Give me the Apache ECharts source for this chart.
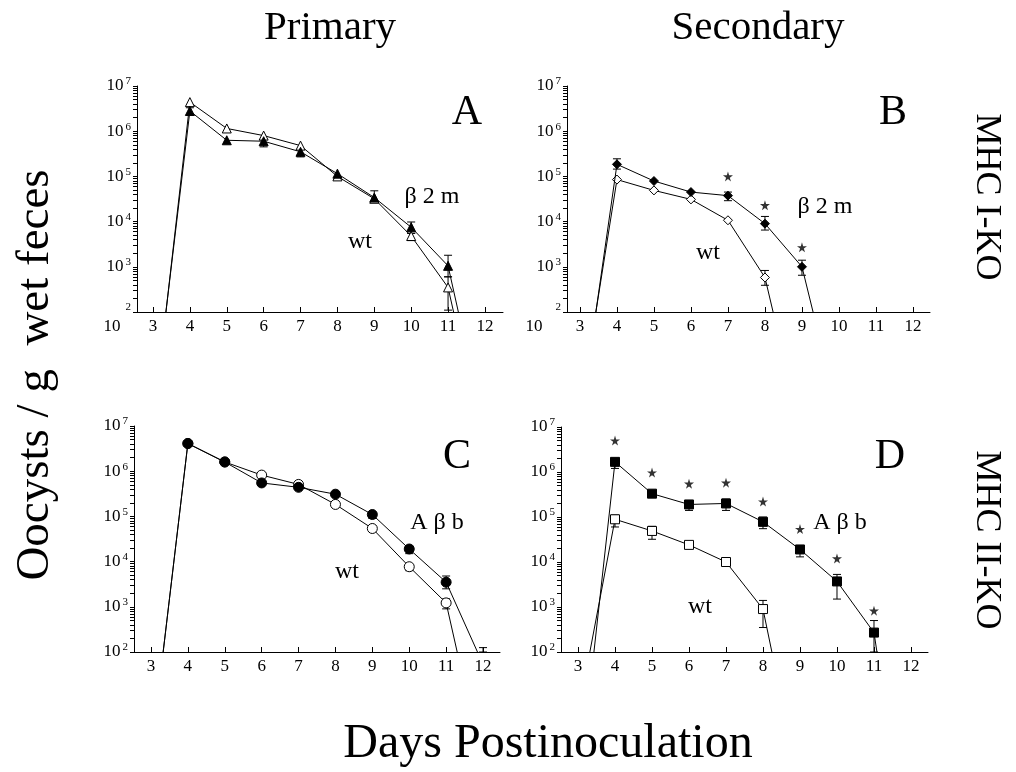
<!DOCTYPE html>
<html>
<head>
<meta charset="utf-8">
<script src="https://cdn.jsdelivr.net/npm/echarts@6/dist/echarts.min.js"></script>
<style>
html,body{margin:0;padding:0;background:#fff;}
#c{width:1016px;height:772px;}
</style>
</head>
<body>
<div id="c"></div>
<script>
// ---------- data ----------
var xTicks = [3, 4, 5, 6, 7, 8, 9, 10, 11, 12];
var yTicks = [1e2, 1e3, 1e4, 1e5, 1e6, 1e7];
var yMinorTicks = [];
[100, 1000, 10000, 100000, 1000000].forEach(function (d) {
  for (var k = 2; k <= 9; k++) yMinorTicks.push(d * k);
});
var yAllTicks = yTicks.concat(yMinorTicks).sort(function (a, b) { return a - b; });

// Panel A (Primary, MHC I-KO): beta2m (filled triangle) vs wt (open triangle)
var aKoX = [3.35, 4, 5, 6, 7, 8, 9, 10, 11, 11.28];
var aKoY = [100, 2.8e6, 6.3e5, 6.0e5, 3.5e5, 1.15e5, 3.4e4, 7.5e3, 1.05e3, 100];
var aWtX = [3.35, 4, 5, 6, 7, 8, 9, 10, 11, 11.15];
var aWtY = [100, 4.4e6, 1.15e6, 8.0e5, 4.8e5, 1.0e5, 3.2e4, 4.8e3, 3.5e2, 100];
var aKoErr = [[4, 2.3e6, 3.3e6], [6, 4.5e5, 6.5e5], [7, 2.7e5, 4.0e5], [9, 2.7e4, 4.8e4], [10, 5.5e3, 9.8e3], [11, 6.0e2, 1.8e3]];
var aWtErr = [[10, 3.8e3, 5.5e3], [11, 1.1e2, 6.0e2]];
var aStars = [];

// Panel B (Secondary, MHC I-KO): beta2m (filled diamond) vs wt (open diamond)
var bKoX = [3.43, 4, 5, 6, 7, 8, 9, 9.3];
var bKoY = [100, 1.85e5, 7.9e4, 4.5e4, 3.75e4, 9.0e3, 1.0e3, 100];
var bWtX = [3.43, 4, 5, 6, 7, 8, 8.22];
var bWtY = [100, 8.5e4, 4.9e4, 3.1e4, 1.07e4, 5.8e2, 100];
var bKoErr = [[4, 1.45e5, 2.45e5], [7, 2.9e4, 4.5e4], [8, 6.5e3, 1.3e4], [9, 6.5e2, 1.4e3]];
var bWtErr = [[8, 3.9e2, 8.3e2]];
var bStars = [[7, 1.0e5], [8, 2.3e4], [9, 2.7e3]];

// Panel C (Primary, MHC II-KO): Abb (filled circle) vs wt (open circle)
var cKoX = [3.33, 4, 5, 6, 7, 8, 9, 10, 11, 11.85];
var cKoY = [100, 4.1e6, 1.6e6, 5.5e5, 4.4e5, 3.1e5, 1.1e5, 1.9e4, 3.5e3, 100];
var cWtX = [3.33, 4, 5, 6, 7, 8, 9, 10, 11, 11.3];
var cWtY = [100, 4.1e6, 1.6e6, 8.2e5, 5.1e5, 1.84e5, 5.4e4, 7.7e3, 1.22e3, 100];
var cKoErr = [[9, 9.0e4, 1.2e5], [10, 1.5e4, 2.2e4], [11, 2.5e3, 4.8e3], [12, 100, 125]];
var cWtErr = [[10, 6.3e3, 8.5e3], [11, 9.0e2, 1.5e3]];
var cStars = [];

// Panel D (Secondary, MHC II-KO): Abb (filled square) vs wt (open square)
var dKoX = [3.43, 4, 5, 6, 7, 8, 9, 10, 11, 11.08];
var dKoY = [100, 1.68e6, 3.3e5, 1.9e5, 2.0e5, 7.8e4, 1.9e4, 3.7e3, 2.7e2, 100];
var dWtX = [3.32, 4, 5, 6, 7, 8, 8.24];
var dWtY = [100, 8.9e4, 4.9e4, 2.4e4, 1.0e4, 9.0e2, 100];
var dKoErr = [[4, 1.2e6, 2.0e6], [5, 2.8e5, 3.6e5], [6, 1.4e5, 2.3e5], [7, 1.4e5, 2.5e5], [8, 5.5e4, 1.0e5], [9, 1.3e4, 2.3e4], [10, 1.5e3, 5.3e3], [11, 100, 5.0e2]];
var dWtErr = [[4, 6.0e4, 1.1e5], [5, 3.2e4, 6.2e4], [8, 3.5e2, 1.4e3]];
var dStars = [[4, 5.0e6], [5, 9.7e5], [6, 5.5e5], [7, 5.8e5], [8, 2.2e5], [9, 5.4e4], [10, 1.2e4], [11, 8.3e2]];

// ---------- layout ----------
var FONT = '"Liberation Serif","DejaVu Serif",serif';
var panels = [
  {left: 137, top: 86, width: 366, height: 226, xmin: 2.566, xmax: 12.49, split10: true,
   ko: [aKoX, aKoY], wt: [aWtX, aWtY], koErr: aKoErr, wtErr: aWtErr, stars: aStars, sym: 'triangle', size: 9},
  {left: 567, top: 86, width: 363, height: 226, xmin: 2.65, xmax: 12.46, split10: true,
   ko: [bKoX, bKoY], wt: [bWtX, bWtY], koErr: bKoErr, wtErr: bWtErr, stars: bStars, sym: 'diamond', size: 9},
  {left: 134, top: 426, width: 366, height: 226, xmin: 2.54, xmax: 12.46, split10: false,
   ko: [cKoX, cKoY], wt: [cWtX, cWtY], koErr: cKoErr, wtErr: cWtErr, stars: cStars, sym: 'circle', size: 10},
  {left: 561, top: 427, width: 367, height: 225, xmin: 2.54, xmax: 12.46, split10: false,
   ko: [dKoX, dKoY], wt: [dWtX, dWtY], koErr: dKoErr, wtErr: dWtErr, stars: dStars, sym: 'rect', size: 9}
];

var STAR = 'path://M50,0 L61,35 L98,35 L68,57 L79,91 L50,70 L21,91 L32,57 L2,35 L39,35 Z';

function lineData(xs, ys) {
  return xs.map(function (x, i) {
    var item = {value: [x, ys[i]]};
    if (i === 0 || i === xs.length - 1) item.symbol = 'none';
    return item;
  });
}

function errRender(params, api) {
  var x = api.value(0), lo = api.value(1), hi = api.value(2);
  var p1 = api.coord([x, lo]), p2 = api.coord([x, hi]);
  var cw = 4;
  var st = {stroke: '#000', lineWidth: 1};
  return {
    type: 'group',
    children: [
      {type: 'line', shape: {x1: p1[0], y1: p1[1], x2: p2[0], y2: p2[1]}, style: st},
      {type: 'line', shape: {x1: p1[0] - cw, y1: p1[1], x2: p1[0] + cw, y2: p1[1]}, style: st},
      {type: 'line', shape: {x1: p2[0] - cw, y1: p2[1], x2: p2[0] + cw, y2: p2[1]}, style: st}
    ]
  };
}

var grids = [], xAxes = [], yAxes = [], series = [];
panels.forEach(function (p, gi) {
  grids.push({left: p.left, top: p.top, width: p.width, height: p.height, containLabel: false});
  xAxes.push({
    type: 'value', gridIndex: gi, min: p.xmin, max: p.xmax,
    axisLine: {lineStyle: {color: '#000', width: 1}},
    axisTick: {inside: true, length: 5, customValues: xTicks, lineStyle: {color: '#000'}},
    axisLabel: {customValues: xTicks, color: '#000', fontFamily: FONT, fontSize: 17, margin: 6},
    splitLine: {show: false}
  });
  var split10 = p.split10;
  yAxes.push({
    type: 'log', logBase: 10, gridIndex: gi, min: 100, max: 1e7, position: 'left',
    axisLine: {show: true, lineStyle: {color: '#000', width: 1}},
    axisTick: {length: 4, customValues: yAllTicks, lineStyle: {color: '#000'}},
    axisLabel: {
      customValues: yTicks, margin: 6, color: '#000', fontFamily: FONT,
      formatter: function (v) {
        var e = Math.round(Math.log(v) / Math.LN10);
        if (split10 && e === 2) return '{s|2}';
        return '{b|10}{s|' + e + '}';
      },
      rich: {
        b: {fontSize: 17, fontFamily: FONT, color: '#000'},
        s: {fontSize: 11, fontFamily: FONT, color: '#000', padding: [0, 0, 9, 2]}
      }
    },
    splitLine: {show: false}
  });
  series.push({
    type: 'custom', xAxisIndex: gi, yAxisIndex: gi, renderItem: errRender,
    data: p.wtErr, z: 1, silent: true
  });
  series.push({
    type: 'custom', xAxisIndex: gi, yAxisIndex: gi, renderItem: errRender,
    data: p.koErr, z: 1, silent: true
  });
  series.push({
    type: 'line', xAxisIndex: gi, yAxisIndex: gi, data: lineData(p.wt[0], p.wt[1]),
    symbol: p.sym, symbolSize: p.size, showAllSymbol: true,
    lineStyle: {color: '#000', width: 1},
    itemStyle: {color: '#fff', borderColor: '#000', borderWidth: 1}, z: 3, silent: true
  });
  series.push({
    type: 'line', xAxisIndex: gi, yAxisIndex: gi, data: lineData(p.ko[0], p.ko[1]),
    symbol: p.sym, symbolSize: p.size, showAllSymbol: true,
    lineStyle: {color: '#000', width: 1},
    itemStyle: {color: '#000', borderColor: '#000', borderWidth: 1}, z: 4, silent: true
  });
  series.push({
    type: 'scatter', xAxisIndex: gi, yAxisIndex: gi, data: p.stars,
    symbol: STAR, symbolSize: 10, itemStyle: {color: '#000'}, z: 5, silent: true
  });
});

function txt(x, y, s, size, rot, align) {
  return {
    type: 'text', x: x, y: y, rotation: rot || 0,
    style: {text: s, font: size + 'px ' + FONT, fill: '#000', textAlign: align || 'center', textVerticalAlign: 'middle'}
  };
}

var graphics = [
  txt(330, 28, 'Primary', 41),
  txt(758, 28, 'Secondary', 41),
  txt(548, 744, 'Days Postinoculation', 48),
  txt(36, 375, 'Oocysts / g  wet feces', 47, Math.PI / 2),
  txt(986, 197, 'MHC I-KO', 36, -Math.PI / 2),
  txt(986, 540, 'MHC II-KO', 36, -Math.PI / 2),
  txt(112, 327, '10', 17),
  txt(534, 327, '10', 17),
  txt(467, 113, 'A', 42),
  txt(893, 113, 'B', 42),
  txt(457, 457, 'C', 42),
  txt(890, 457, 'D', 42),
  txt(432, 197, '\u03b2 2 m', 24),
  txt(825, 207, '\u03b2 2 m', 24),
  txt(360, 242, 'wt', 24),
  txt(708, 253, 'wt', 24),
  txt(437, 523, 'A \u03b2 b', 24),
  txt(347, 572, 'wt', 24),
  txt(840, 523, 'A \u03b2 b', 24),
  txt(700, 607, 'wt', 24)
];

var chart = echarts.init(document.getElementById('c'), null, {renderer: 'canvas'});
chart.setOption({
  animation: false,
  backgroundColor: '#fff',
  grid: grids,
  xAxis: xAxes,
  yAxis: yAxes,
  series: series,
  graphic: graphics
});
</script>
</body>
</html>
